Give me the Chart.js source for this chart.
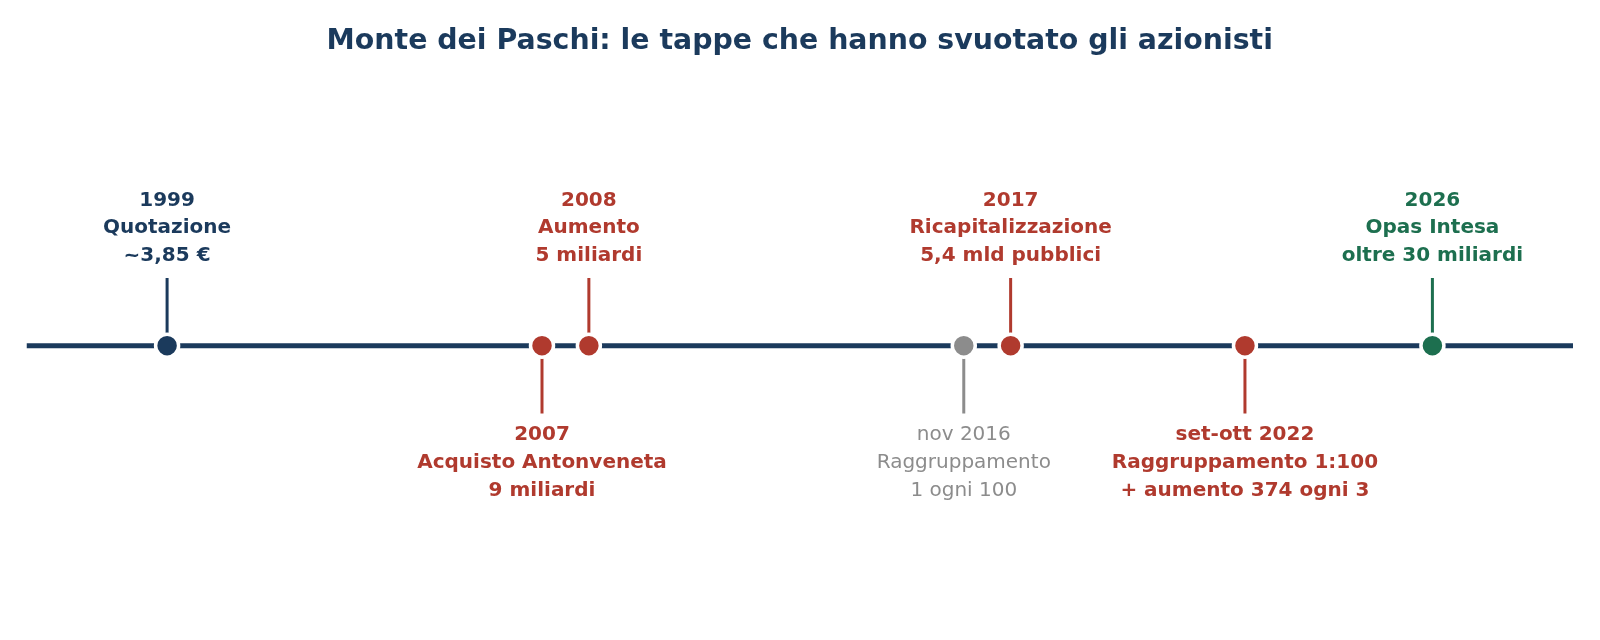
<!DOCTYPE html>
<html>
<head>
<meta charset="utf-8">
<script src="https://cdn.jsdelivr.net/npm/chart.js@4.4.1/dist/chart.umd.min.js"></script>
<style>
  html, body { margin: 0; padding: 0; background: #ffffff; }
  #wrap { width: 1600px; height: 640px; position: relative; }
</style>
</head>
<body>
<div id="wrap"><canvas id="c"></canvas></div>
<script>
// ---- Data ----
const titleText = 'Monte dei Paschi: le tappe che hanno svuotato gli azionisti';
const eventYears = [1999, 2007, 2008, 2016, 2017, 2022, 2026];
const eventDates = ['1999', '2007', '2008', 'nov 2016', '2017', 'set-ott 2022', '2026'];
const eventTitles = ['Quotazione', 'Acquisto Antonveneta', 'Aumento', 'Raggruppamento', 'Ricapitalizzazione', 'Raggruppamento 1:100', 'Opas Intesa'];
const eventDetails = ['~3,85 €', '9 miliardi', '5 miliardi', '1 ogni 100', '5,4 mld pubblici', '+ aumento 374 ogni 3', 'oltre 30 miliardi'];
const eventSides = ['up', 'down', 'up', 'down', 'up', 'down', 'up'];
const eventKinds = ['start', 'loss', 'loss', 'neutral', 'loss', 'loss', 'end'];
const axisRange = [1996, 2029];

// ---- Styles ----
const NAVY = '#1b3a5c';
const palette = { start: NAVY, loss: '#b03a2e', neutral: '#8c8c8c', end: '#1d6f4f' };
const boldKinds = { start: true, loss: true, neutral: false, end: true };
const STEM_UP = 0.242, STEM_DOWN = -0.243;
const FONT = "'DejaVu Sans', 'Liberation Sans', sans-serif";

const colors = eventKinds.map(k => palette[k]);

const stemDatasets = eventYears.map((yr, i) => ({
  type: 'line',
  data: [{ x: yr, y: 0 }, { x: yr, y: eventSides[i] === 'up' ? STEM_UP : STEM_DOWN }],
  borderColor: colors[i],
  borderWidth: 3,
  pointRadius: 0,
  borderCapStyle: 'butt',
  order: 1
}));

const labelPlugin = {
  id: 'eventLabels',
  afterDatasetsDraw(chart) {
    const ctx = chart.ctx;
    const xs = chart.scales.x, ys = chart.scales.y;
    const lh = 27.6;
    ctx.save();
    ctx.textAlign = 'center';
    ctx.textBaseline = 'middle';
    eventYears.forEach((yr, i) => {
      const kind = eventKinds[i];
      ctx.fillStyle = palette[kind];
      ctx.font = (boldKinds[kind] ? 'bold ' : '') + '20px ' + FONT;
      const x = xs.getPixelForValue(yr);
      const lines = [eventDates[i], eventTitles[i], eventDetails[i]];
      if (eventSides[i] === 'up') {
        const end = ys.getPixelForValue(STEM_UP);
        const lastY = end - 22.4;
        lines.forEach((t, j) => {
          ctx.fillText(t, x, lastY - (lines.length - 1 - j) * lh);
        });
      } else {
        const end = ys.getPixelForValue(STEM_DOWN);
        const firstY = end + 21.7;
        lines.forEach((t, j) => {
          ctx.fillText(t, x, firstY + j * lh);
        });
      }
    });
    ctx.restore();
  }
};

new Chart(document.getElementById('c'), {
  data: {
    datasets: [
      {
        type: 'scatter',
        data: eventYears.map(yr => ({ x: yr, y: 0 })),
        pointBackgroundColor: colors,
        pointBorderColor: '#ffffff',
        pointBorderWidth: 3.5,
        pointRadius: 11.5,
        pointHoverRadius: 11.5,
        order: 0
      },
      ...stemDatasets,
      {
        type: 'line',
        data: [{ x: axisRange[0], y: 0 }, { x: axisRange[1], y: 0 }],
        borderColor: NAVY,
        borderWidth: 5,
        pointRadius: 0,
        borderCapStyle: 'butt',
        order: 2
      }
    ]
  },
  options: {
    responsive: true,
    maintainAspectRatio: false,
    animation: false,
    events: [],
    layout: { padding: { left: 26.5, right: 27, top: 0.5, bottom: 8.8 } },
    scales: {
      x: { type: 'linear', min: axisRange[0], max: axisRange[1], display: false },
      y: { type: 'linear', min: -1, max: 1, display: false }
    },
    plugins: {
      legend: { display: false },
      tooltip: { enabled: false },
      title: {
        display: true,
        text: titleText,
        color: NAVY,
        font: { family: FONT, size: 28.4, weight: 'bold', lineHeight: 1.2 },
        padding: { top: 23.7, bottom: 8 }
      }
    }
  },
  plugins: [labelPlugin]
});
</script>
</body>
</html>
